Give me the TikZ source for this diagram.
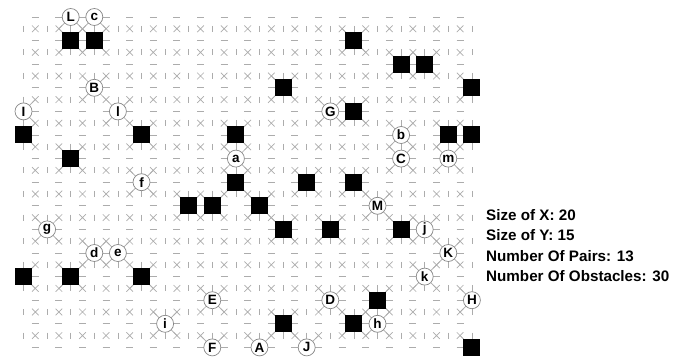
\documentclass[tikz,border=0pt]{standalone}
\usepackage{fontspec}
\setmainfont{Liberation Sans}
\usetikzlibrary{calc}
\definecolor{markgray}{RGB}{172,172,172}
\definecolor{ringgray}{RGB}{135,135,135}
\tikzset{
  gridmark/.style={draw=markgray, line width=0.7pt},
  obst/.style={rectangle, fill=black, draw=none, minimum size=17pt, inner sep=0pt},
  pairnode/.style={circle, draw=ringgray, fill=white, line width=0.7pt, minimum size=17pt, inner sep=0pt, font=\bfseries\fontsize{13.5}{13.5}\selectfont},
  info/.style={anchor=base west, inner sep=0pt, font=\bfseries\fontsize{15.2}{18}\selectfont}
}
\newcommand\myhalfedges[2]{%
  \foreach \dx/\dy in {-1/-1,0/-1,1/-1,-1/0,1/0,-1/1,0/1,1/1}{%
    \pgfmathtruncatemacro\nx{#1+\dx}%
    \pgfmathtruncatemacro\ny{#2+\dy}%
    \pgfmathtruncatemacro\ok{(\nx>=0)*(\nx<=19)*(\ny>=0)*(\ny<=14)}%
    \ifnum\ok=1 \draw[gridmark] (P-#1-#2) -- ($(P-#1-#2)!0.5!(P-\nx-\ny)$);\fi
  }}
\begin{document}
\begin{tikzpicture}[x=1pt,y=-1pt]
\useasboundingbox (0,0) rectangle (683,358);
\fill[white] (0,0) rectangle (683,358);
% lattice points
\foreach \i in {0,...,19}{\foreach \j in {0,...,14}{\coordinate (P-\i-\j) at ({23.5+23.6*\i},{17+23.6*\j});}}
% horizontal dashes
\foreach \i in {0,...,18}{\foreach \j in {0,...,14}{%
  \pgfmathtruncatemacro\ni{\i+1}%
  \coordinate (Q) at ($(P-\i-\j)!0.5!(P-\ni-\j)$);
  \draw[gridmark] (Q) ++(-3.5,0) -- ++(7,0);}}
% vertical ticks
\foreach \i in {0,...,19}{\foreach \j in {0,...,13}{%
  \pgfmathtruncatemacro\nj{\j+1}%
  \coordinate (Q) at ($(P-\i-\j)!0.5!(P-\i-\nj)$);
  \draw[gridmark] (Q) ++(0,-3) -- ++(0,6);}}
% diagonal crosses
\foreach \i in {0,...,18}{\foreach \j in {0,...,13}{%
  \pgfmathtruncatemacro\ni{\i+1}%
  \pgfmathtruncatemacro\nj{\j+1}%
  \coordinate (Q) at ($(P-\i-\j)!0.5!(P-\ni-\nj)$);
  \draw[gridmark] (Q) ++(-3.3,-3.3) -- ++(6.6,6.6) (Q) ++(-3.3,3.3) -- ++(6.6,-6.6);}}
% half edges around occupied cells
\foreach \c/\r in {2/1,3/1,14/1,16/2,17/2,11/3,19/3,14/4,0/5,5/5,9/5,18/5,19/5,2/6,9/7,12/7,14/7,7/8,8/8,10/8,11/9,13/9,16/9,0/11,2/11,5/11,15/12,11/13,14/13,19/14,
  2/0,3/0,3/3,0/4,4/4,13/4,16/5,9/6,16/6,18/6,5/7,15/8,1/9,17/9,3/10,4/10,18/10,17/11,8/12,13/12,19/12,6/13,15/13,8/14,10/14,12/14}{\myhalfedges{\c}{\r}}
% obstacles
\foreach \c/\r [count=\k] in {2/1,3/1,14/1,16/2,17/2,11/3,19/3,14/4,0/5,5/5,9/5,18/5,19/5,2/6,9/7,12/7,14/7,7/8,8/8,10/8,11/9,13/9,16/9,0/11,2/11,5/11,15/12,11/13,14/13,19/14}{\node[obst] (o\k) at (P-\c-\r) {};}
% pair terminals
\foreach \c/\r/\t/\n in {2/0/L/uL,3/0/c/lc,3/3/B/uB,0/4/I/uI,4/4/l/ll,13/4/G/uG,16/5/b/lb,9/6/a/la,16/6/C/uC,18/6/m/lm,5/7/f/lf,15/8/M/uM,1/9/g/lg,17/9/j/lj,3/10/d/ld,4/10/e/le,18/10/K/uK,17/11/k/lk,8/12/E/uE,13/12/D/uD,19/12/H/uH,6/13/i/li,15/13/h/lh,8/14/F/uF,10/14/A/uA,12/14/J/uJ}{\node[pairnode] (\n) at (P-\c-\r) {\t};}
% info text
\node[info] (sx) at (486,220.5) {Size of X: 20};
\node[info] (sy) at (486,241) {Size of Y: 15};
\node[info] (np) at (486,261.5) {Number Of Pairs: 13};
\node[info] (no) at (486,282) {Number Of Obstacles: 30};
\end{tikzpicture}
\end{document}
